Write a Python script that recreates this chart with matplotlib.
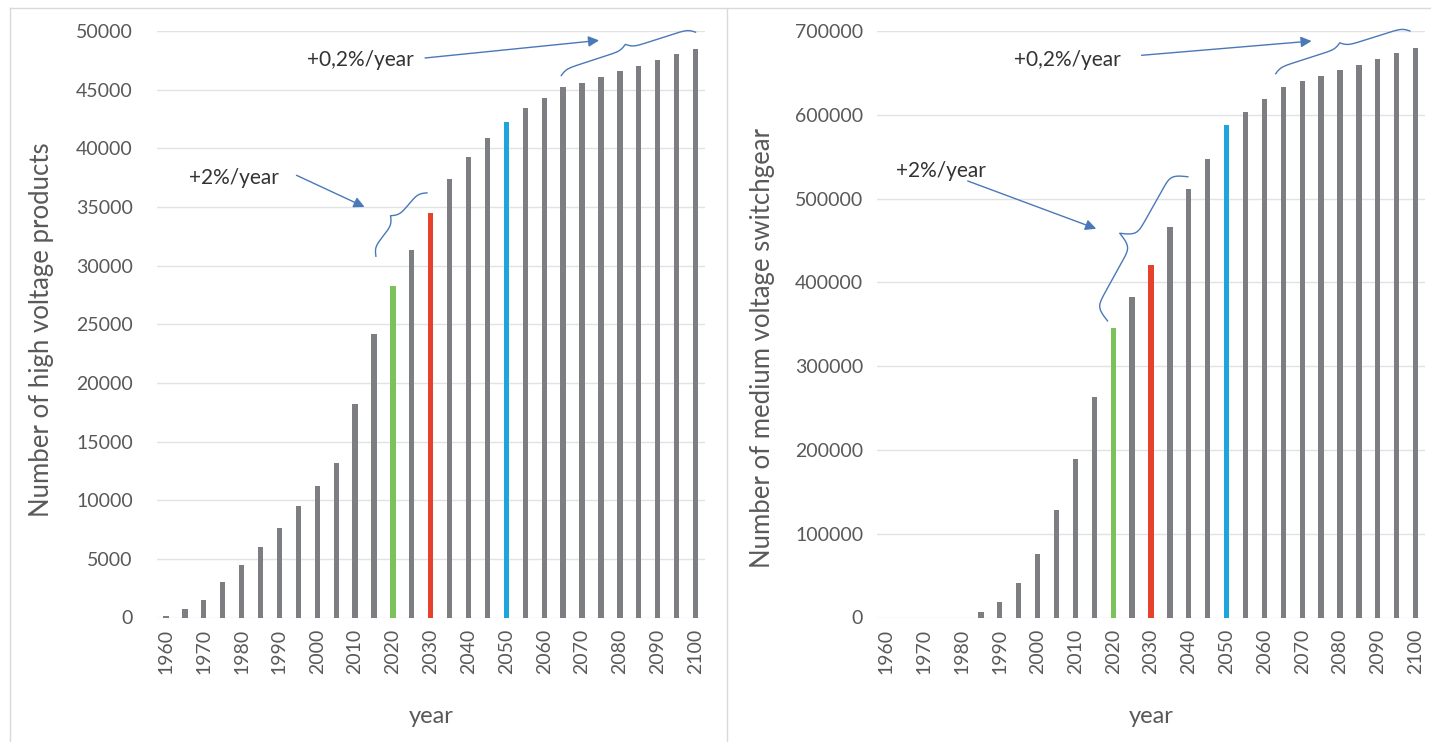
import numpy as np
import matplotlib
matplotlib.use('Agg')
import matplotlib.pyplot as plt
from matplotlib.lines import Line2D

plt.rcParams['font.family'] = ['Lato', 'DejaVu Sans']

years = list(range(1960, 2101, 5))
hv_products = [100, 700, 1500, 3000, 4500, 6000, 7600, 9500, 11200, 13200,
               18200, 24200, 28300, 31300, 34500, 37400, 39300, 40900, 42200,
               43400, 44300, 45200, 45600, 46100, 46600, 47000, 47500, 48000, 48500]
mv_switchgear = [0, 0, 0, 0, 0, 6000, 19000, 41000, 76000, 128000, 189000,
                 263000, 345000, 382000, 421000, 466000, 511000, 547000, 588000,
                 603000, 619000, 633000, 640000, 646000, 653000, 660000, 667000,
                 674000, 680000]
highlight = {2020: '#7cc25a', 2030: '#e5412d', 2050: '#1fa5dd'}
bar_grey = '#7d7e82'
ann_blue = '#4a78b8'
txt_grey = '#595959'

W, H = 1431, 742
fig = plt.figure(figsize=(W / 100, H / 100), dpi=100)
fig.patch.set_facecolor('white')


def brace(ax, p0, p1, width, beta=0.3):
    # curly brace between two data points, width in pixels (left of p0->p1)
    d0 = ax.transData.transform(p0)
    d1 = ax.transData.transform(p1)
    vec = d1 - d0
    L = np.hypot(*vec)
    u = vec / L
    n = np.array([-u[1], u[0]])
    s = np.linspace(0, L / 2, 200)
    h = 1 / (1 + np.exp(-beta * (s - s[0]))) + 1 / (1 + np.exp(-beta * (s - s[-1])))
    h = np.concatenate([h, h[-2::-1]]) - 0.5
    s = np.concatenate([s, L - s[-2::-1]])
    pts = d0 + np.outer(s, u) + np.outer(h * width, n)
    data = ax.transData.inverted().transform(pts)
    ax.plot(data[:, 0], data[:, 1], color=ann_blue, lw=1, clip_on=False)


def arrow(ax, tail, head):
    ax.annotate('', xy=head, xytext=tail, annotation_clip=False,
                arrowprops=dict(arrowstyle='-|>', color=ann_blue, lw=1,
                                mutation_scale=16, shrinkA=0, shrinkB=0))


def panel(rect, values, ymax, ystep, ylabel, ypad, ylab_y):
    ax = fig.add_axes(rect)
    x = np.arange(len(years))
    colors = [highlight.get(y, bar_grey) for y in years]
    ax.bar(x, values, width=0.28, color=colors, zorder=3)
    ax.set_xlim(-0.5, len(years) - 0.5)
    ax.set_ylim(0, ymax)
    ax.set_xticks(x[::2])
    ax.set_xticklabels([str(y) for y in years[::2]], rotation=90)
    ax.set_yticks(np.arange(0, ymax + 1, ystep))
    ax.tick_params(axis='x', length=0, pad=8, labelsize=14, labelcolor=txt_grey)
    ax.tick_params(axis='y', length=0, pad=ypad, labelsize=14, labelcolor=txt_grey)
    ax.grid(axis='y', color='#e2e2e2', lw=1, zorder=0)
    for sp in ax.spines.values():
        sp.set_visible(False)
    ax.set_xlabel('year', fontsize=17, color=txt_grey)
    ax.xaxis.set_label_coords(0.5, -0.151)
    ax.set_ylabel(ylabel, fontsize=18.5, color=txt_grey)
    ax.yaxis.set_label_coords(-0.187, ylab_y)
    return ax


ax1 = panel([156.5 / W, (H - 617.5) / H, 548.5 / W, 586.5 / H], hv_products,
            50000, 5000, 'Number of high voltage products', 17, 0.49)
ax2 = panel([877 / W, (H - 617.5) / H, 548 / W, 586.5 / H], mv_switchgear,
            700000, 100000, 'Number of medium voltage switchgear', 10, 0.46)

# annotations, left panel
ax1.text(10.3, 47500, '+0,2%/year', ha='center', va='center', fontsize=15, color='#333333')
arrow(ax1, (13.7, 47700), (22.9, 49200))
brace(ax1, (20.9, 46200), (28.0, 49900), 10)
ax1.text(3.6, 37450, '+2%/year', ha='center', va='center', fontsize=15, color='#333333')
arrow(ax1, (6.9, 37700), (10.5, 35000))
brace(ax1, (11.1, 30800), (13.8, 36200), 14)

# annotations, right panel
ax2.text(9.55, 665000, '+0,2%/year', ha='center', va='center', fontsize=15, color='#333333')
arrow(ax2, (13.5, 671000), (22.5, 688000))
brace(ax2, (20.6, 649000), (27.7, 700000), 10)
ax2.text(2.9, 533000, '+2%/year', ha='center', va='center', fontsize=15, color='#333333')
arrow(ax2, (4.3, 521000), (11.1, 464000))
brace(ax2, (11.7, 354000), (15.95, 526000), 32)

# panel frames
border = '#d9d9d9'
fig.add_artist(Line2D([10 / W, 10 / W], [0, 1 - 8 / H], transform=fig.transFigure, color=border, lw=1))
fig.add_artist(Line2D([727 / W, 727 / W], [0, 1 - 8 / H], transform=fig.transFigure, color=border, lw=1))
fig.add_artist(Line2D([10 / W, 1], [1 - 8 / H, 1 - 8 / H], transform=fig.transFigure, color=border, lw=1))

fig.savefig('out.png', dpi=100)
